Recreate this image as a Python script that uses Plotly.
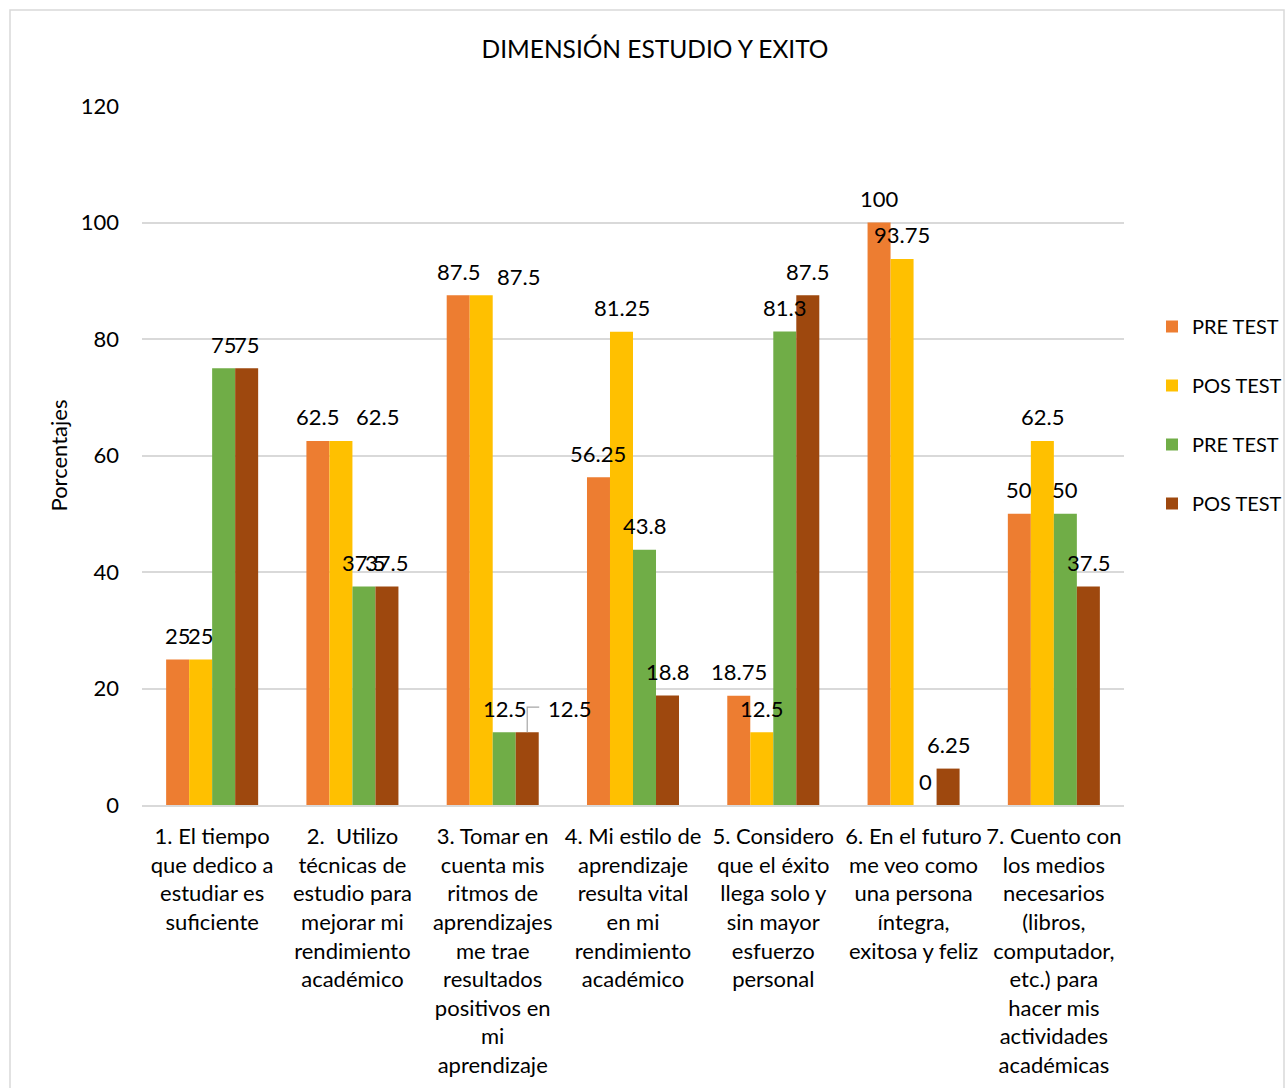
import plotly.graph_objects as go

categories = [
    "1. El tiempo<br>que dedico a<br>estudiar es<br>suficiente",
    "2.  Utilizo<br>técnicas de<br>estudio para<br>mejorar mi<br>rendimiento<br>académico",
    "3. Tomar en<br>cuenta mis<br>ritmos de<br>aprendizajes<br>me trae<br>resultados<br>positivos en<br>mi<br>aprendizaje",
    "4. Mi estilo de<br>aprendizaje<br>resulta vital<br>en mi<br>rendimiento<br>académico",
    "5. Considero<br>que el éxito<br>llega solo y<br>sin mayor<br>esfuerzo<br>personal",
    "6. En el futuro<br>me veo como<br>una persona<br>íntegra,<br>exitosa y feliz",
    "7. Cuento con<br>los medios<br>necesarios<br>(libros,<br>computador,<br>etc.) para<br>hacer mis<br>actividades<br>académicas",
]
series_names = ["PRE TEST", "POS TEST", "PRE TEST", "POS TEST"]
pre_test_1 = [25, 62.5, 87.5, 56.25, 18.75, 100, 50]
pos_test_1 = [25, 62.5, 87.5, 81.25, 12.5, 93.75, 62.5]
pre_test_2 = [75, 37.5, 12.5, 43.8, 81.3, 0, 50]
pos_test_2 = [75, 37.5, 12.5, 18.8, 87.5, 6.25, 37.5]
colors = ["#ED7D31", "#FFC000", "#70AD47", "#9E480E"]
y_ticks = [0, 20, 40, 60, 80, 100, 120]

# manually moved data labels (series index, category index) -> (dx px, dy px)
label_moves = {(1, 1): (37, 0), (1, 2): (37, -5), (3, 2): (42, 0)}

FONT = "Lato"
BARGAP = 0.344
n_series = 4
bar_w = (1 - BARGAP) / n_series

fig = go.Figure()
all_series = [pre_test_1, pos_test_1, pre_test_2, pos_test_2]
annotations = []
shapes = []
for i, (name, vals) in enumerate(zip(series_names, all_series)):
    fig.add_trace(go.Bar(
        x=list(range(len(categories))), y=vals, name=name,
        marker=dict(color=colors[i], line=dict(width=0)),
        legendgroup=f"g{i}",
    ))
    for k, v in enumerate(vals):
        dx, dy = label_moves.get((i, k), (0, 0))
        xc = k + (i - (n_series - 1) / 2) * bar_w
        annotations.append(dict(
            x=xc, y=v, xref="x", yref="y", text=f"{v:g}", showarrow=False,
            xanchor="center", yanchor="middle", xshift=dx, yshift=24 + dy,
            font=dict(size=22, family=FONT, color="#000000"),
        ))
        if (i, k) == (3, 2):
            shapes.append(dict(
                type="path", xref="x", yref="y", xsizemode="pixel", ysizemode="pixel",
                xanchor=xc, yanchor=v, path="M 0,0 L 0,25 L 12,25",
                line=dict(color="#A6A6A6", width=1.2),
            ))

shapes.append(dict(type="rect", xref="paper", yref="paper",
                   x0=(10 - 142) / 982, x1=(1284 - 142) / 982,
                   y0=(805 - 1095) / 699, y1=(805 - 10) / 699,
                   line=dict(color="#D9D9D9", width=1.5), fillcolor="rgba(0,0,0,0)", layer="below"))

fig.update_layout(
    width=1285, height=1088,
    barmode="group", bargap=BARGAP, bargroupgap=0,
    paper_bgcolor="white", plot_bgcolor="white",
    margin=dict(l=142, r=161, t=106, b=283, autoexpand=False),
    font=dict(family=FONT, size=22, color="#000000"),
    title=dict(text="DIMENSIÓN ESTUDIO Y EXITO", x=655 / 1285, xanchor="center",
               y=1 - 49 / 1088, yanchor="middle", xref="container", yref="container",
               font=dict(size=24.5, family=FONT, color="#000000")),
    legend=dict(x=(1152 - 142) / 982, xanchor="left", y=1 - (307 - 106) / 699, yanchor="top",
                font=dict(size=20, family=FONT), tracegroupgap=30,
                itemwidth=30, bgcolor="rgba(0,0,0,0)"),
    xaxis=dict(tickmode="array", tickvals=list(range(len(categories))), ticktext=categories,
               showgrid=False, showline=True, linecolor="#D9D9D9", linewidth=1.5,
               ticks="", tickfont=dict(size=22, family=FONT), range=[-0.5, 6.5],
               ticklabelstandoff=11),
    yaxis=dict(range=[0, 120], tickvals=y_ticks, showgrid=True, gridcolor="#D9D9D9",
               gridwidth=1.5, zeroline=False, showline=False, ticks="",
               tickfont=dict(size=22, family=FONT), ticklabelstandoff=22,
               title=dict(text="Porcentajes", font=dict(size=22, family=FONT), standoff=7)),
    annotations=annotations,
    shapes=shapes,
)
fig.write_html("out.html", config={"displayModeBar": False},
               post_script="document.body.style.margin='0';document.body.style.overflow='hidden';")
